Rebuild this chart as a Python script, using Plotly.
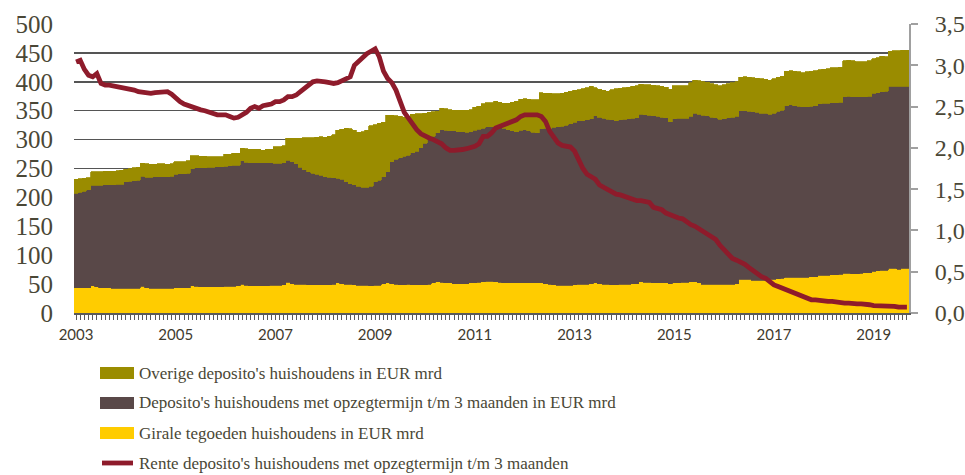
import plotly.graph_objects as go

# ---- data (monthly, Jan 2003 - Sep 2019) ----
overige = [
    24,23,22,21,23,23,23,23,23,23,23,24,
    22,22,22,22,22,23,22,21,22,22,21,21,
    22,21,21,21,22,21,20,20,18,18,17,17,
    21,20,20,20,22,23,23,23,23,22,23,23,
    29,29,29,38,40,44,50,55,59,61,64,67,
    68,71,74,83,87,93,95,94,94,96,98,105,
    99,98,94,98,80,75,71,68,66,67,65,59,
    52,47,42,37,37,37,37,36,37,37,38,38,
    40,40,42,42,42,43,43,43,46,50,52,54,
    54,55,56,57,62,60,60,58,57,57,57,57,
    55,53,55,56,56,49,48,48,49,52,55,55,
    55,55,55,55,52,52,53,53,53,53,53,56,
    57,56,56,56,58,57,58,58,58,58,57,58,
    59,59,59,60,58,59,59,59,59,59,58,59,
    59,59,59,59,59,59,59,59,60,60,60,59,
    59,60,60,60,60,62,62,62,61,61,61,61,
    60,61,61,59,61,62,62,63,63,
]
opzeg = [
    163,165,167,169,174,176,177,178,178,179,180,180,
    184,185,186,187,191,191,192,193,193,193,193,194,
    196,197,197,198,203,205,206,206,207,207,208,208,
    208,209,210,209,213,213,213,213,213,213,213,212,
    211,211,211,211,211,208,202,198,195,193,191,189,
    187,186,184,181,180,177,174,173,171,170,170,172,
    179,182,185,192,211,216,220,222,223,228,231,237,
    245,250,254,258,264,264,263,264,263,263,262,262,
    264,265,266,267,267,269,269,268,265,263,262,264,
    265,263,261,260,267,269,270,272,274,275,277,279,
    281,283,283,284,285,289,288,287,285,285,284,284,
    285,286,286,287,290,290,289,289,288,287,286,280,
    284,285,284,284,286,292,292,292,291,289,288,285,
    286,288,289,289,292,292,291,291,290,289,289,286,
    288,290,291,297,298,297,296,295,295,295,296,297,
    298,298,298,298,298,305,306,306,306,305,304,305,
    308,308,309,310,315,315,316,315,315,
]
girale = [
    44,44,44,44,47,45,44,44,44,43,43,43,
    43,43,43,43,46,44,43,43,43,43,43,43,
    44,44,44,44,47,46,45,45,45,45,45,45,
    46,46,46,47,50,48,47,47,47,47,47,48,
    48,48,49,53,51,50,50,50,49,49,49,49,
    49,49,50,52,51,50,50,49,48,48,48,47,
    48,48,51,52,51,50,49,49,50,49,49,49,
    49,50,52,54,53,52,52,51,51,51,51,52,
    52,53,54,55,55,54,53,52,52,52,52,52,
    52,52,52,52,52,51,50,49,48,48,48,48,
    49,50,50,50,51,52,51,50,50,49,49,50,
    50,50,51,51,54,53,53,52,52,52,52,51,
    52,52,53,53,54,54,52,50,50,50,50,50,
    50,50,50,51,58,58,58,57,57,57,57,58,
    58,59,60,62,62,62,62,62,62,63,63,65,
    65,65,66,66,67,69,69,68,68,69,70,70,
    72,73,74,74,77,77,76,77,77,
]
rente = [
    3.04,3.06,2.95,2.88,2.86,2.90,2.78,2.76,2.76,2.75,2.75,2.74,
    2.73,2.71,2.70,2.68,2.67,2.67,2.66,2.67,2.67,2.67,2.68,2.65,
    2.60,2.56,2.53,2.51,2.49,2.48,2.46,2.45,2.43,2.41,2.40,2.40,
    2.40,2.38,2.36,2.37,2.40,2.43,2.48,2.50,2.48,2.51,2.52,2.53,
    2.56,2.56,2.58,2.62,2.62,2.64,2.68,2.72,2.77,2.80,2.81,2.81,
    2.80,2.79,2.78,2.79,2.81,2.83,2.86,3.00,3.05,3.09,3.14,3.17,
    3.20,3.10,2.93,2.84,2.79,2.70,2.58,2.43,2.36,2.28,2.22,2.17,
    2.14,2.12,2.10,2.07,2.05,2.00,1.97,1.97,1.97,1.98,1.99,2.00,
    2.02,2.05,2.14,2.14,2.18,2.24,2.26,2.28,2.29,2.31,2.34,2.38,
    2.40,2.40,2.40,2.40,2.38,2.32,2.20,2.12,2.06,2.03,2.02,2.01,
    1.96,1.85,1.75,1.68,1.65,1.62,1.55,1.52,1.50,1.47,1.44,1.43,
    1.41,1.39,1.37,1.36,1.36,1.35,1.34,1.28,1.26,1.25,1.21,1.19,
    1.16,1.15,1.14,1.10,1.07,1.05,1.02,0.98,0.96,0.92,0.89,0.82,
    0.76,0.71,0.66,0.64,0.62,0.59,0.55,0.51,0.47,0.44,0.42,0.38,
    0.34,0.32,0.30,0.27,0.25,0.23,0.21,0.20,0.18,0.16,0.16,0.15,
    0.14,0.14,0.14,0.13,0.13,0.12,0.12,0.11,0.11,0.11,0.11,0.10,
    0.09,0.09,0.09,0.09,0.08,0.08,0.07,0.07,0.07,
]
year_labels = ["2003", "2005", "2007", "2009", "2011", "2013", "2015", "2017", "2019"]
series_names = [
    "Overige deposito's huishoudens in EUR mrd",
    "Deposito's huishoudens met opzegtermijn t/m 3 maanden in EUR mrd",
    "Girale tegoeden huishoudens in EUR mrd",
    "Rente deposito's huishoudens met opzegtermijn t/m 3 maanden",
]

months = list(range(len(rente)))
year_pos = [months[i * 24] for i in range(len(year_labels))]

C_OLIVE = "#9a8c00"
C_BROWN = "#594848"
C_YELLOW = "#ffcc00"
C_RED = "#8e1b2b"
TXT = "#4a4736"

fig = go.Figure()
for vals, col, name in [(girale, C_YELLOW, series_names[2]),
                        (opzeg, C_BROWN, series_names[1]),
                        (overige, C_OLIVE, series_names[0])]:
    fig.add_trace(go.Bar(x=months, y=vals, name=name, marker_color=col,
                         marker_line=dict(color=col, width=0.8), width=1.0))
fig.add_trace(go.Scatter(x=months, y=rente, name=series_names[3], yaxis="y2",
                         mode="lines", line=dict(color=C_RED, width=4.8)))

# body margin is removed by the post_script, so figure px == page px
W, H = 965, 475
L, R, T, B = 74, 909, 24, 313

def px_x(px):
    return (px - L) / (R - L)

def px_y(py):
    return (B - py) / (B - T)

shapes = []
annots = []
rows = [373, 403, 433, 463]
cols = [C_OLIVE, C_BROWN, C_YELLOW]
for i, py in enumerate(rows):
    if i < 3:
        shapes.append(dict(type="rect", xref="paper", yref="paper",
                           x0=px_x(100), x1=px_x(134), y0=px_y(py + 6), y1=px_y(py - 6),
                           fillcolor=cols[i], line=dict(width=0)))
    else:
        shapes.append(dict(type="line", xref="paper", yref="paper",
                           x0=px_x(102), x1=px_x(133), y0=px_y(py), y1=px_y(py),
                           line=dict(color=C_RED, width=4.8)))
    annots.append(dict(text=series_names[i], xref="paper", yref="paper",
                       x=px_x(137), y=px_y(py), xanchor="left", yanchor="middle",
                       showarrow=False,
                       font=dict(family="Liberation Serif", size=17, color=TXT)))

fig.update_layout(
    width=W, height=H,
    margin=dict(l=L, r=W - R, t=T, b=H - B, pad=0, autoexpand=False),
    paper_bgcolor="white", plot_bgcolor="white",
    barmode="stack", bargap=0,
    showlegend=False,
    separators=",.",
    shapes=shapes, annotations=annots,
    xaxis=dict(range=[-0.5, len(months) - 0.5], tickmode="array",
               tickvals=year_pos, ticktext=year_labels, automargin=False,
               ticks="outside", ticklen=5, tickcolor="#5a5a5a", tickwidth=1,
               minor=dict(dtick=1, tick0=0, ticks="outside", ticklen=5,
                          tickcolor="#5a5a5a", tickwidth=1),
               showline=True, linecolor="#5a5a5a", linewidth=1.5,
               showgrid=False, zeroline=False,
               tickfont=dict(family="Lato", size=15, color="#3f3b2e"),
               ticklabelstandoff=2),
    yaxis=dict(range=[0, 500], dtick=50, showgrid=True, gridcolor="#555555",
               gridwidth=1.5, zeroline=False, showline=False, ticks="",
               automargin=False,
               tickfont=dict(family="Liberation Serif", size=25, color=TXT),
               ticklabelstandoff=20),
    yaxis2=dict(range=[0, 3.5], dtick=0.5, tickformat=".1f", overlaying="y",
                side="right", showgrid=False, zeroline=False, automargin=False,
                showline=True, linecolor="#a0a0a0", linewidth=2,
                ticks="outside", ticklen=7, tickcolor="#a0a0a0", tickwidth=2,
                tickfont=dict(family="Liberation Serif", size=24, color=TXT),
                ticklabelstandoff=12),
)

fig.write_html("out.html",
               config={"displayModeBar": False, "staticPlot": True},
               post_script="document.body.style.margin='0';document.body.style.overflow='hidden';")
